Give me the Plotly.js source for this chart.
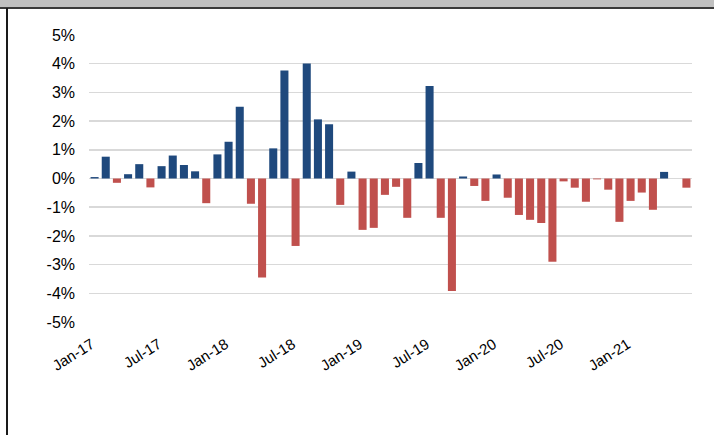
<!DOCTYPE html>
<html>
<head>
<meta charset="utf-8">
<script src="https://cdn.plot.ly/plotly-3.0.1.min.js"></script>
<style>
  html, body { margin: 0; padding: 0; background: #ffffff; }
  #wrap { position: relative; width: 714px; height: 435px; overflow: hidden; }
  #chart { position: absolute; left: 0; top: 0; width: 714px; height: 435px; }
  #band { position: absolute; left: 0; top: 0; width: 714px; height: 7px; background: #c0c0c0; }
  #bandline { position: absolute; left: 0; top: 7px; width: 714px; height: 2px; background: #3a3a3a; }
  #leftline { position: absolute; left: 6px; top: 8px; width: 2px; height: 427px; background: #1a1a1a; }
</style>
</head>
<body>
<div id="wrap">
  <div id="chart"></div>
  <div id="band"></div>
  <div id="bandline"></div>
  <div id="leftline"></div>
</div>
<script>
const months = [
  'Jan-17','Feb-17','Mar-17','Apr-17','May-17','Jun-17','Jul-17','Aug-17','Sep-17','Oct-17','Nov-17','Dec-17',
  'Jan-18','Feb-18','Mar-18','Apr-18','May-18','Jun-18','Jul-18','Aug-18','Sep-18','Oct-18','Nov-18','Dec-18',
  'Jan-19','Feb-19','Mar-19','Apr-19','May-19','Jun-19','Jul-19','Aug-19','Sep-19','Oct-19','Nov-19','Dec-19',
  'Jan-20','Feb-20','Mar-20','Apr-20','May-20','Jun-20','Jul-20','Aug-20','Sep-20','Oct-20','Nov-20','Dec-20',
  'Jan-21','Feb-21','Mar-21','Apr-21','May-21','Jun-21'
];
// monthly change, percent
const values = [
  0.05, 0.76, -0.15, 0.15, 0.50, -0.31, 0.43, 0.80, 0.47, 0.25, -0.86, 0.84,
  1.28, 2.50, -0.88, -3.45, 1.05, 3.76, -2.35, 4.01, 2.06, 1.89, -0.92, 0.24,
  -1.79, -1.72, -0.57, -0.29, -1.37, 0.54, 3.22, -1.37, -3.92, 0.07, -0.26, -0.78,
  0.14, -0.67, -1.27, -1.44, -1.55, -2.90, -0.10, -0.32, -0.81, -0.03, -0.39, -1.51,
  -0.78, -0.49, -1.09, 0.23, 0.00, -0.32
];
const tickLabels = ['Jan-17','Jul-17','Jan-18','Jul-18','Jan-19','Jul-19','Jan-20','Jul-20','Jan-21'];
const yTickVals = [5, 4, 3, 2, 1, 0, -1, -2, -3, -4, -5];
const yTickText = ['5%','4%','3%','2%','1%','0%','-1%','-2%','-3%','-4%','-5%'];

const POS = '#1F497D';
const NEG = '#C0504D';

const trace = {
  type: 'bar',
  x: months,
  y: values,
  marker: { color: values.map(v => v >= 0 ? POS : NEG) },
  hoverinfo: 'x+y'
};

const layout = {
  width: 714,
  height: 435,
  margin: { l: 89, r: 22, t: 35, b: 113 },
  paper_bgcolor: '#ffffff',
  plot_bgcolor: '#ffffff',
  showlegend: false,
  bargap: 0.28,
  font: { family: 'Liberation Sans, Arial, sans-serif', size: 15, color: '#000000' },
  xaxis: {
    type: 'category',
    tickmode: 'array',
    tickvals: tickLabels,
    ticktext: tickLabels,
    tickangle: -32,
    showgrid: false,
    zeroline: false,
    showline: false,
    ticks: '',
    ticklabelstandoff: 10,
    ticklabelshift: -3,
    tickfont: { size: 15 },
    range: [-0.5, months.length - 0.5]
  },
  yaxis: {
    range: [-5, 5],
    tickmode: 'array',
    tickvals: yTickVals,
    ticktext: yTickText,
    showgrid: true,
    gridcolor: '#d9d9d9',
    gridwidth: 1.5,
    zeroline: true,
    zerolinecolor: '#d9d9d9',
    zerolinewidth: 1.5,
    showline: false,
    ticks: '',
    ticklabelstandoff: 13,
    tickfont: { size: 16 }
  }
};

Plotly.newPlot('chart', [trace], layout, { displayModeBar: false, staticPlot: true });
</script>
</body>
</html>
